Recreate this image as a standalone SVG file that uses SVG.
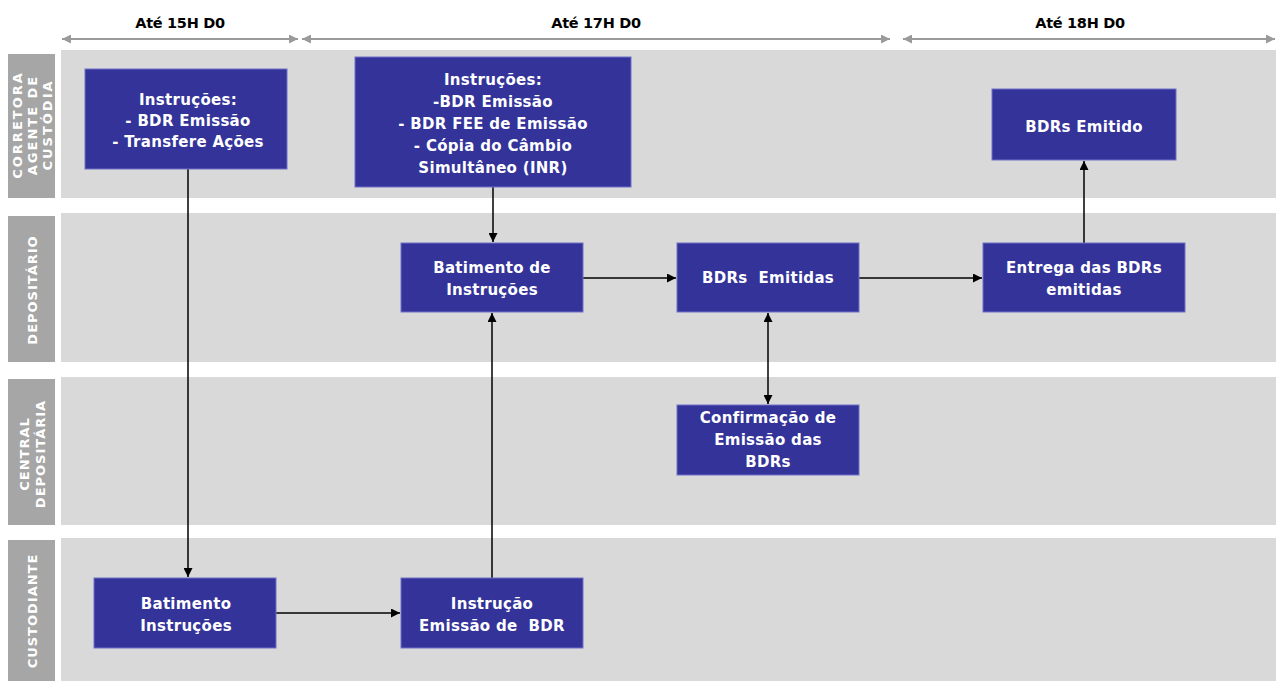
<svg xmlns="http://www.w3.org/2000/svg" width="1276" height="681" viewBox="0 0 1276 681">
<defs>
<style>
.lane{fill:#d9d9d9}
.lab{fill:#a6a6a6}
.labt{fill:#ffffff;font-family:"DejaVu Sans",sans-serif;font-weight:bold;font-size:13px;letter-spacing:1px;text-anchor:middle}
.wide{letter-spacing:2px}
.hdr{fill:#000000;font-family:"DejaVu Sans",sans-serif;font-weight:bold;font-size:14.5px;text-anchor:middle;letter-spacing:-0.3px}
.tl{stroke:#9a9a9a;stroke-width:2;fill:none}
.box{fill:#333399;stroke:#7070c8;stroke-width:1}
.bt{fill:#ffffff;font-family:"DejaVu Sans",sans-serif;font-weight:bold;font-size:15px;letter-spacing:0.3px;text-anchor:middle}
.con{stroke:#000000;stroke-width:1.5;fill:none}
</style>
<marker id="ah" viewBox="0 0 10 10" refX="10" refY="5" markerWidth="9" markerHeight="9" markerUnits="userSpaceOnUse" orient="auto-start-reverse">
<path d="M0,0 L10,5 L0,10 z" fill="#000000"/>
</marker>
<marker id="gh" viewBox="0 0 10 10" refX="10" refY="5" markerWidth="9" markerHeight="9" markerUnits="userSpaceOnUse" orient="auto-start-reverse">
<path d="M0,0 L10,5 L0,10 z" fill="#9a9a9a"/>
</marker>
</defs>
<rect width="1276" height="681" fill="#ffffff"/>
<g id="lanes">
<rect class="lane" x="61" y="50" width="1215" height="148"/>
<rect class="lane" x="61" y="213" width="1215" height="149"/>
<rect class="lane" x="61" y="377" width="1215" height="148"/>
<rect class="lane" x="61" y="538" width="1215" height="143"/>
<rect class="lab" x="8" y="54" width="47" height="144"/>
<rect class="lab" x="8" y="216" width="47" height="146"/>
<rect class="lab" x="8" y="379" width="47" height="146"/>
<rect class="lab" x="8" y="540" width="47" height="141"/>
<text class="labt wide" transform="translate(22,125) rotate(-90)">CORRETORA</text>
<text class="labt wide" transform="translate(37,125) rotate(-90)">AGENTE DE</text>
<text class="labt wide" transform="translate(52,125) rotate(-90)">CUSTÓDIA</text>
<text class="labt" transform="translate(37,290) rotate(-90)">DEPOSITÁRIO</text>
<text class="labt" transform="translate(29,454) rotate(-90)">CENTRAL</text>
<text class="labt" transform="translate(45,454) rotate(-90)">DEPOSITÁRIA</text>
<text class="labt" transform="translate(37,611) rotate(-90)">CUSTODIANTE</text>
</g>
<g id="timeline">
<text class="hdr" x="180" y="28">Até 15H D0</text>
<text class="hdr" x="596" y="28">Até 17H D0</text>
<text class="hdr" x="1080" y="28">Até 18H D0</text>
<line class="tl" x1="62" y1="39" x2="298" y2="39" marker-start="url(#gh)" marker-end="url(#gh)"/>
<line class="tl" x1="302" y1="39" x2="890" y2="39" marker-start="url(#gh)" marker-end="url(#gh)"/>
<line class="tl" x1="903" y1="39" x2="1275" y2="39" marker-start="url(#gh)" marker-end="url(#gh)"/>
</g>
<g id="connectors">
<line class="con" x1="188" y1="169" x2="188" y2="577" marker-end="url(#ah)"/>
<line class="con" x1="493" y1="187" x2="493" y2="242" marker-end="url(#ah)"/>
<line class="con" x1="492" y1="578" x2="492" y2="313" marker-end="url(#ah)"/>
<line class="con" x1="583" y1="278" x2="676" y2="278" marker-end="url(#ah)"/>
<line class="con" x1="859" y1="278" x2="982" y2="278" marker-end="url(#ah)"/>
<line class="con" x1="1084" y1="243" x2="1084" y2="161" marker-end="url(#ah)"/>
<line class="con" x1="768" y1="313" x2="768" y2="404" marker-start="url(#ah)" marker-end="url(#ah)"/>
<line class="con" x1="276" y1="613" x2="400" y2="613" marker-end="url(#ah)"/>
</g>
<g id="nA">
<rect class="box" x="85" y="69" width="202" height="100"/>
<text class="bt" x="188" y="105">Instruções:</text>
<text class="bt" x="188" y="126">- BDR Emissão</text>
<text class="bt" x="188" y="147">- Transfere Ações</text>
</g>
<g id="nB">
<rect class="box" x="355" y="57" width="276" height="130"/>
<text class="bt" x="493" y="85">Instruções:</text>
<text class="bt" x="493" y="107">-BDR Emissão</text>
<text class="bt" x="493" y="129">- BDR FEE de Emissão</text>
<text class="bt" x="493" y="151">- Cópia do Câmbio</text>
<text class="bt" x="493" y="173">Simultâneo (INR)</text>
</g>
<g id="nC">
<rect class="box" x="401" y="243" width="182" height="69"/>
<text class="bt" x="492" y="273">Batimento de</text>
<text class="bt" x="492" y="295">Instruções</text>
</g>
<g id="nD">
<rect class="box" x="677" y="243" width="182" height="69"/>
<text class="bt" x="768" y="283" xml:space="preserve">BDRs  Emitidas</text>
</g>
<g id="nE">
<rect class="box" x="983" y="243" width="202" height="69"/>
<text class="bt" x="1084" y="273">Entrega das BDRs</text>
<text class="bt" x="1084" y="295">emitidas</text>
</g>
<g id="nF">
<rect class="box" x="992" y="89" width="184" height="71"/>
<text class="bt" x="1084" y="132">BDRs Emitido</text>
</g>
<g id="nG">
<rect class="box" x="677" y="405" width="182" height="70"/>
<text class="bt" x="768" y="423">Confirmação de</text>
<text class="bt" x="768" y="445">Emissão das</text>
<text class="bt" x="768" y="467">BDRs</text>
</g>
<g id="nH">
<rect class="box" x="94" y="578" width="182" height="70"/>
<text class="bt" x="186" y="609">Batimento</text>
<text class="bt" x="186" y="631">Instruções</text>
</g>
<g id="nI">
<rect class="box" x="401" y="578" width="182" height="70"/>
<text class="bt" x="492" y="609">Instrução</text>
<text class="bt" x="492" y="631" xml:space="preserve">Emissão de  BDR</text>
</g>
</svg>
